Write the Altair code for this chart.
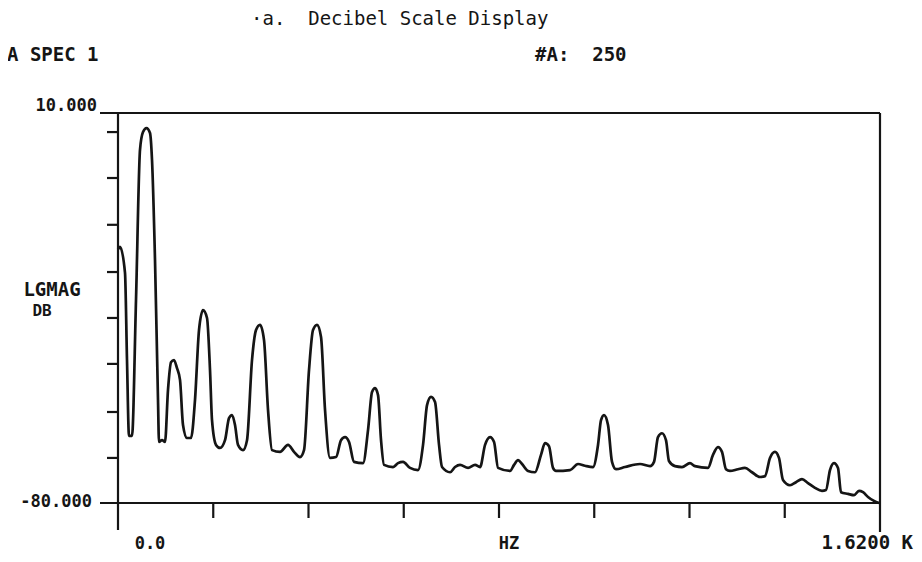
import altair as alt
import pandas as pd

# ---- data (frequency in Hz, magnitude in dB) ----
freq_hz = [
    0, 4.2, 14.7, 18.9, 23.1, 29.4, 37.8, 46.2, 52.5, 59.8,
    67.2, 71.4, 77.7, 84.0, 86.1, 92.4, 98.7, 105, 111.3, 117.6,
    123.9, 130.2, 136.5, 144.9, 153.3, 161.7, 170.1, 178.5, 186.9, 193.2,
    197.4, 205.8, 214.2, 224.7, 233.1, 239.4, 245.7, 252, 262.5, 270.9,
    281.4, 289.8, 298.2, 306.6, 315, 323.4, 340.2, 357, 369.6, 382.2,
    390.6, 401.1, 409.5, 417.9, 426.3, 434.7, 445.2, 457.8, 468.3, 476.7,
    485.1, 495.6, 514.5, 525, 533.4, 539.7, 546, 552.3, 558.6, 577.5,
    588, 598.5, 613.2, 630, 640.5, 648.9, 657.3, 665.7, 674.1, 680.4,
    697.2, 707.7, 718.2, 735, 749.7, 760.2, 770.7, 781.2, 789.6, 798,
    823.2, 831.6, 840, 848.4, 861, 875.6, 888.2, 896.6, 905, 913.4,
    919.7, 949, 965.9, 980.6, 997.4, 1007.9, 1014.2, 1020.5, 1028.9, 1037.3,
    1045.7, 1064.6, 1096.1, 1117.1, 1125.5, 1133.8, 1142.2, 1150.6, 1156.9, 1169.5,
    1184.2, 1201, 1211.5, 1238.8, 1249.3, 1259.8, 1268.2, 1276.6, 1285, 1301.8,
    1316.5, 1331.2, 1348, 1358.5, 1369, 1379.5, 1387.9, 1396.3, 1411, 1423.6,
    1436.2, 1448.8, 1463.5, 1478.2, 1486.6, 1495, 1503.4, 1511.8, 1518.1, 1532.8,
    1545.4, 1555.9, 1564.3, 1574.8, 1587.4, 1597.9,
]
mag_db = [
    -21.5, -20.9, -26.9, -47.0, -64.5, -64.5, -33.2, 1.5, 5.6, 6.5,
    5.4, -0.8, -23.9, -56.2, -65.9, -65.5, -65.9, -53.9, -47.5, -47.0,
    -48.9, -51.6, -62.0, -65.0, -65.0, -56.2, -40.1, -35.5, -37.3, -49.3,
    -60.9, -66.6, -67.3, -65.5, -60.4, -59.7, -62.0, -66.6, -67.8, -65.5,
    -47.0, -40.1, -38.9, -42.4, -58.5, -67.8, -68.2, -66.6, -68.2, -69.4,
    -67.8, -49.3, -40.1, -38.9, -41.7, -58.5, -69.6, -69.4, -65.5, -64.8,
    -65.9, -70.5, -70.8, -63.2, -54.4, -53.5, -55.1, -65.5, -71.2, -71.7,
    -70.8, -70.5, -71.9, -72.4, -66.6, -57.4, -55.5, -56.7, -66.6, -71.7,
    -72.9, -71.7, -71.2, -71.9, -71.2, -71.7, -66.6, -64.8, -65.9, -71.9,
    -72.6, -71.2, -70.1, -71.0, -72.6, -72.9, -68.9, -66.2, -66.9, -71.9,
    -72.6, -72.4, -71.0, -71.4, -71.7, -66.6, -60.9, -59.7, -62.0, -70.5,
    -72.2, -71.7, -71.0, -71.5, -70.5, -64.8, -63.9, -65.5, -70.3, -71.5,
    -71.7, -70.8, -71.5, -71.9, -68.9, -67.1, -68.2, -72.2, -72.6, -72.2,
    -71.9, -72.9, -74.0, -73.8, -69.6, -68.2, -69.6, -74.7, -75.9, -75.2,
    -74.5, -75.4, -76.5, -77.2, -77.0, -72.4, -70.8, -71.9, -77.5, -77.9,
    -78.2, -77.2, -77.5, -78.6, -79.5, -80.0,
]
y_tick_db = [5.6, -5.0, -15.8, -26.7, -37.3, -47.9, -59.0, -69.6]
x_tick_hz = [200, 400, 600, 800, 1000, 1200, 1400]
x_range_hz = [0, 1600]
y_range_db = [-80, 10]

INK = "#151515"
MONO = "DejaVu Sans Mono"
NB = "\u00a0"
W, H = 762, 390

xs = alt.Scale(domain=x_range_hz, nice=False, zero=False)
ys = alt.Scale(domain=y_range_db, nice=False, zero=False)

df = pd.DataFrame({"hz": freq_hz, "db": mag_db})

curve = alt.Chart(df).mark_line(
    color=INK, strokeWidth=2.7, interpolate="monotone", strokeJoin="round"
).encode(
    x=alt.X("hz:Q", scale=xs, axis=None),
    y=alt.Y("db:Q", scale=ys, axis=None),
)

frame_w = 2.2

left_line = alt.Chart(pd.DataFrame({"hz": [x_range_hz[0]]})).mark_rule(
    color=INK, strokeWidth=frame_w
).encode(x=alt.X("hz:Q", scale=xs, axis=None), y=alt.value(0), y2=alt.value(H + 27))

right_line = alt.Chart(pd.DataFrame({"hz": [x_range_hz[1]]})).mark_rule(
    color=INK, strokeWidth=frame_w
).encode(x=alt.X("hz:Q", scale=xs, axis=None), y=alt.value(0), y2=alt.value(H + 29))

top_line = alt.Chart(pd.DataFrame({"db": [y_range_db[1]]})).mark_rule(
    color=INK, strokeWidth=frame_w
).encode(y=alt.Y("db:Q", scale=ys, axis=None), x=alt.value(-18), x2=alt.value(W))

bottom_line = alt.Chart(pd.DataFrame({"db": [y_range_db[0]]})).mark_rule(
    color=INK, strokeWidth=frame_w
).encode(y=alt.Y("db:Q", scale=ys, axis=None), x=alt.value(-18), x2=alt.value(W))

y_ticks = alt.Chart(pd.DataFrame({"db": y_tick_db})).mark_rule(
    color=INK, strokeWidth=frame_w
).encode(y=alt.Y("db:Q", scale=ys, axis=None), x=alt.value(-11), x2=alt.value(0))

x_ticks = alt.Chart(pd.DataFrame({"hz": x_tick_hz})).mark_rule(
    color=INK, strokeWidth=frame_w
).encode(x=alt.X("hz:Q", scale=xs, axis=None), y=alt.value(H), y2=alt.value(H + 15))


def label(text, px, py, size, weight="bold", align="left"):
    return alt.Chart(pd.DataFrame({"k": [0]})).mark_text(
        text=text, font=MONO, fontSize=size, fontWeight=weight,
        align=align, baseline="alphabetic", color=INK,
    ).encode(x=alt.value(px), y=alt.value(py))


texts = [
    label("\u00b7a." + NB + NB + "Decibel" + NB + "Scale" + NB + "Display",
          133, -88, 19, weight="normal"),
    label("A" + NB + "SPEC" + NB + "1", -111, -52, 19),
    label("#A:" + NB + NB + "250", 417, -52, 19),
    label("10.000", -21, -2, 17, align="right"),
    label("LGMAG", -66, 183, 19, align="center"),
    label("DB", -76, 203, 16, align="center"),
    label("-80.000", -26, 394, 17, align="right"),
    label("0.0", 32, 436, 17, align="center"),
    label("HZ", 391, 436, 17, align="center"),
    label("1.6200" + NB + "K", 795, 436, 19, align="right"),
]

chart = alt.layer(
    top_line, bottom_line, left_line, right_line, y_ticks, x_ticks, curve, *texts
).properties(
    width=W,
    height=H,
    autosize=alt.AutoSizeParams(type="none"),
    padding={"left": 110, "top": 105, "right": 34, "bottom": 51},
    background="white",
).configure_view(stroke=None)

chart.save("out.html", embed_options={"renderer": "svg", "actions": False})
